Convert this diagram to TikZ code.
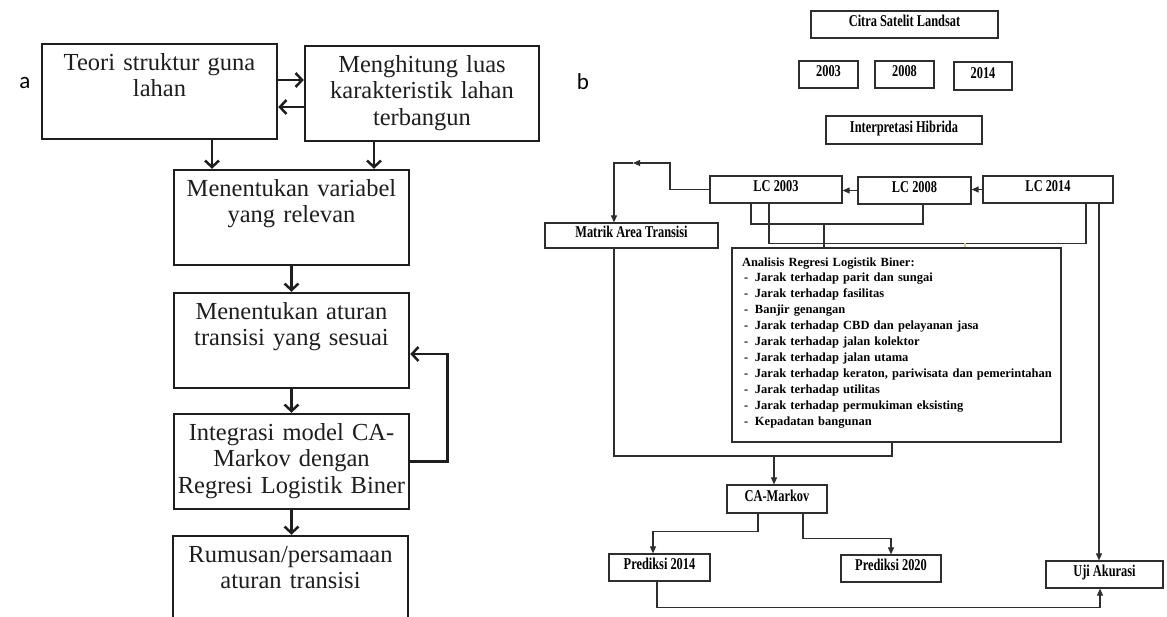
\documentclass[tikz,border=0pt]{standalone}
\usepackage{fontspec}
\setmainfont{Liberation Serif}
\newfontfamily\panelfont{Carlito}
\newfontfamily\narrowfont[FakeStretch=0.75]{Liberation Serif}
\usepackage{tikz}
\usetikzlibrary{arrows.meta,positioning,calc}
\definecolor{inkgrey}{HTML}{1E1E1E}
\definecolor{linegrey}{HTML}{2E2E2E}
\definecolor{faintline}{HTML}{D6CFA4}
\tikzset{
  abox/.style={draw=inkgrey, line width=2.5pt, align=center, text width=#1,
               inner xsep=3pt, inner ysep=0pt, text height=26pt, text depth=69pt,
               text=inkgrey, font=\fontsize{24.5}{26.5}\selectfont},
  abox/.default=229pt,
  aflow/.style={-{Straight Barb[length=6.5pt,width=14pt]}, line width=2.5pt,
                draw=inkgrey},
  bbox/.style={draw=linegrey, line width=1.2pt, inner sep=0pt, minimum width=#1,
               minimum height=27pt, text height=7pt, text depth=3pt,
               font=\narrowfont\bfseries\fontsize{16.5}{18}\selectfont},
  listbox/.style={draw=linegrey, line width=1.2pt, align=left, text width=319pt,
                  inner xsep=5pt, inner ysep=0pt, text height=18pt, text depth=176pt,
                  font=\bfseries\fontsize{12.5}{15.9}\selectfont},
  bline/.style={line width=1.1pt, draw=linegrey},
  bflow/.style={-{Triangle[length=7pt,width=6pt]}, line width=1.1pt, draw=linegrey},
  panel/.style={font=\panelfont\fontsize{23}{23}\selectfont, inner sep=0pt},
}
\newcommand{\varitem}[1]{\\\hspace*{7pt}\makebox[11pt][l]{-}#1}

\begin{document}
\begin{tikzpicture}[x=1pt, y=-1pt]
\path[use as bounding box, clip] (0,0) rectangle (1167,616);

% ========================= PANEL (a) =====================================
\node[panel] at (25,83) (taga) {a};
\node[abox]        at (159.5, 91.5) (teori)     {Teori struktur guna\\lahan};
\node[abox=228pt]  at (422,   93.5) (hitung)    {Menghitung luas\\karakteristik lahan\\terbangun};
\node[abox]        at (291.5,217.5) (variabel)  {Menentukan variabel\\yang relevan};
\node[abox]        at (291.5,340.5) (aturan)    {Menentukan aturan\\transisi yang sesuai};
\node[abox]        at (291.5,461.5) (integrasi) {Integrasi model CA-\\Markov dengan\\Regresi Logistik Biner};
\node[abox]        at (290.5,583.5) (rumusan)   {Rumusan/persamaan\\aturan transisi};

\draw[aflow] ([yshift=11.5pt]teori.east) -- ([yshift=11.5pt]teori.east -| hitung.west);
\draw[aflow] ([yshift=-15.5pt]teori.east -| hitung.west) -- ([yshift=-15.5pt]teori.east);
\draw[aflow] ([xshift=52.5pt]teori.south) -- ([xshift=-79.5pt]variabel.north);
\draw[aflow] ([xshift=-48pt]hitung.south) -- ([xshift=82.5pt]variabel.north);
\draw[aflow] (variabel.south) -- (variabel.south |- aturan.north);
\draw[aflow] (aturan.south) -- (aturan.south |- integrasi.north);
\draw[aflow] (integrasi.south) -- (integrasi.south |- rumusan.north);
% back to the transition rules
\draw[aflow] (integrasi.east) -- ++(37,0) |- ([yshift=-13.5pt]aturan.east);

% ========================= PANEL (b) =====================================
\node[panel] at (583,82) (tagb) {b};
\node[bbox=187pt] at (904.5, 24.5) (citra)    {Citra Satelit Landsat};
\node[bbox=59pt]  at (828.5, 74.5) (y03)      {2003};
\node[bbox=59pt]  at (904.5, 74.5) (y08)      {2008};
\node[bbox=58pt, minimum height=28pt] at (983, 76) (y14) {2014};
\node[bbox=156pt, minimum height=28pt] at (904, 130) (hibrida) {Interpretasi Hibrida};

\node[bbox=132pt] at (776,  189.5) (lc03)     {LC 2003};
\node[bbox=113pt] at (914.5,190.5) (lc08)     {LC 2008};
\node[bbox=130pt] at (1048, 189.5) (lc14)     {LC 2014};
\node[bbox=173pt, minimum height=25pt] at (631.5,235.5) (matrik) {Matrik Area Transisi};

\node[listbox] at (896.5,345) (analisis) {\hspace*{5pt}Analisis Regresi Logistik Biner:
  \varitem{Jarak terhadap parit dan sungai}
  \varitem{Jarak terhadap fasilitas}
  \varitem{Banjir genangan}
  \varitem{Jarak terhadap CBD dan pelayanan jasa}
  \varitem{Jarak terhadap jalan kolektor}
  \varitem{Jarak terhadap jalan utama}
  \varitem{Jarak terhadap keraton, pariwisata dan pemerintahan}
  \varitem{Jarak terhadap utilitas}
  \varitem{Jarak terhadap permukiman eksisting}
  \varitem{Kepadatan bangunan}};

\node[bbox=100pt, minimum height=28pt] at (777,499) (camarkov) {CA-Markov};
\node[bbox=101pt] at (659.5,567.5) (p14)  {Prediksi 2014};
\node[bbox=100pt] at (891,  568.5) (p20)  {Prediksi 2020};
\node[bbox=117pt] at (1104.5,574.5) (uji) {Uji Akurasi};

% land cover chain and transition matrix
\coordinate (k1) at (670,163);
\coordinate (k2) at (633,163);
\coordinate (k3) at (614,163);
\draw[bflow] (lc14.west) -- (lc14.west -| lc08.east);
\draw[bflow] (lc08.west) -- (lc08.west -| lc03.east);
\draw[bflow] (lc03.west) -| (k1) -- (k2);
\draw[bflow] (k2) -- (k3) -- (k3 |- matrik.north);

% land cover into the regression
\coordinate (brA) at (824,224);
\draw[bline] ([xshift=-25pt]lc03.south) |- (brA) -| ([xshift=8.5pt]lc08.south);
\draw[bline] (brA) -- (brA |- analisis.north);
\draw[bline] ([xshift=-7pt]lc03.south) -- ++(0,40) -| ([xshift=38pt]lc14.south);
\coordinate (brB) at (965,243);
\draw[line width=1.1pt, draw=faintline] (brB) -- (brB |- analisis.north);

% into CA-Markov
\coordinate (jn) at (774,456);
\draw[bline] (k3 |- matrik.south) |- ([xshift=-4.5pt]analisis.south |- jn)
             -- ([xshift=-4.5pt]analisis.south);
\draw[bflow] (jn) -- (jn |- camarkov.north);

% predictions and accuracy
\draw[bflow] ([xshift=-19pt]camarkov.south) -- ++(0,18) -| ([xshift=-6.5pt]p14.north);
\draw[bflow] ([xshift=26pt]camarkov.south) -- ++(0,25) -| (p20.north);
\draw[bflow] ([xshift=51pt]lc14.south) coordinate (r1) -- (r1 |- uji.north);
\draw[bflow] ([xshift=-2.5pt]p14.south) -- ++(0,26) -| ([xshift=-4.5pt]uji.south);
\end{tikzpicture}
\end{document}
